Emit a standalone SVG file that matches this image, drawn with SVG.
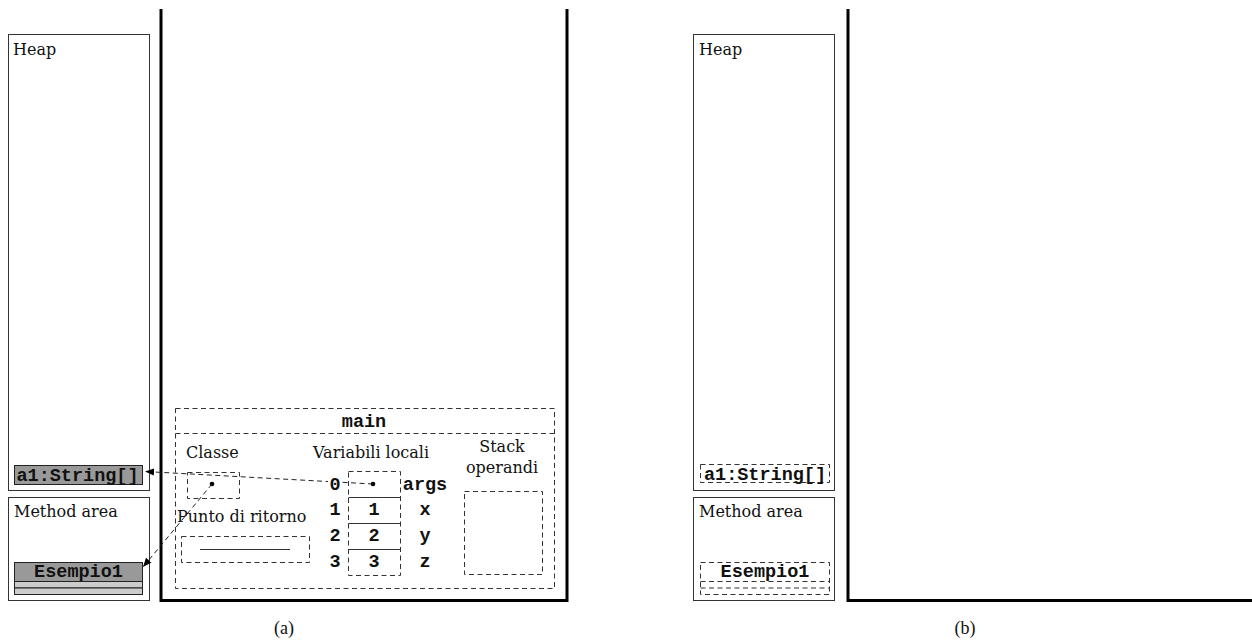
<svg xmlns="http://www.w3.org/2000/svg" width="1252" height="644" viewBox="0 0 1252 644">
<defs>
<marker id="arr" viewBox="0 0 10 10" refX="10" refY="5" markerWidth="9" markerHeight="9" markerUnits="userSpaceOnUse" orient="auto">
<path d="M0,1 L10,5 L0,9 z" fill="#000"/>
</marker>
<style>
.area{fill:#fff;stroke:#333;stroke-width:1}
.stack{fill:none;stroke:#000;stroke-width:3}
.dash{fill:none;stroke:#333;stroke-width:1;stroke-dasharray:5 3.5}
.solid{fill:none;stroke:#333;stroke-width:1}
.obj{fill:#999;stroke:#222;stroke-width:1}
.obj2{fill:#ccc;stroke:#222;stroke-width:1}
.ser{font-family:"DejaVu Serif",serif;font-size:16px;fill:#111}
.cap{font-family:"Liberation Serif",serif;font-size:18px;fill:#111}
.mono{font-family:"Liberation Mono","Courier New",monospace;font-weight:bold;font-size:18.5px;fill:#111}
.conn{fill:none;stroke:#222;stroke-width:1;stroke-dasharray:5 3.5}
</style>
</defs>
<rect width="1252" height="644" fill="#fff"/>

<!-- Panel (a) -->
<g id="heap-a">
<rect class="area" x="8.5" y="34.5" width="141" height="456"/>
<text class="ser" x="13" y="55">Heap</text>
</g>
<g id="a1-a">
<rect class="obj" x="14.5" y="465.5" width="128" height="19"/>
<text class="mono" x="77.5" y="481" text-anchor="middle">a1:String[]</text>
</g>
<g id="method-a">
<rect class="area" x="8.5" y="497.5" width="141" height="103"/>
<text class="ser" x="14" y="517">Method area</text>
</g>
<g id="esempio-a">
<rect class="obj" x="14.5" y="562.5" width="128" height="19"/>
<rect class="obj2" x="14.5" y="581.5" width="128" height="6.5"/>
<rect class="obj2" x="14.5" y="588" width="128" height="6.5"/>
<text class="mono" x="78.5" y="577" text-anchor="middle">Esempio1</text>
</g>
<g id="stack-a">
<polyline class="stack" points="161,9 161,600.5 567,600.5 567,9"/>
</g>
<g id="frame-main">
<rect class="dash" x="175.5" y="408.5" width="379" height="180"/>
<line class="dash" x1="175.5" y1="433.5" x2="554.5" y2="433.5"/>
<text class="mono" x="364" y="427" text-anchor="middle">main</text>
</g>
<g id="classe">
<text class="ser" x="186" y="458">Classe</text>
<rect class="dash" x="187.5" y="472.5" width="52" height="26"/>
<circle cx="212" cy="484" r="2.3" fill="#000"/>
</g>
<g id="ritorno">
<text class="ser" x="177" y="522">Punto di ritorno</text>
<rect class="dash" x="181.5" y="536.5" width="128" height="26"/>
<line class="solid" x1="200" y1="549.5" x2="290" y2="549.5"/>
</g>
<g id="variabili">
<text class="ser" x="313" y="458">Variabili locali</text>
<rect class="dash" x="348.5" y="471.5" width="52" height="104"/>
<line class="solid" x1="348.5" y1="497.5" x2="400.5" y2="497.5"/>
<line class="solid" x1="348.5" y1="523.5" x2="400.5" y2="523.5"/>
<line class="solid" x1="348.5" y1="549.5" x2="400.5" y2="549.5"/>
<circle cx="373" cy="484" r="2.3" fill="#000"/>
<text class="mono" x="374" y="515" text-anchor="middle">1</text>
<text class="mono" x="374" y="541" text-anchor="middle">2</text>
<text class="mono" x="374" y="567" text-anchor="middle">3</text>
<text class="mono" x="425" y="490" text-anchor="middle">args</text>
<text class="mono" x="425" y="515" text-anchor="middle">x</text>
<text class="mono" x="425" y="541" text-anchor="middle">y</text>
<text class="mono" x="425" y="567" text-anchor="middle">z</text>
</g>
<g id="operandi">
<text class="ser" x="502" y="452" text-anchor="middle">Stack</text>
<text class="ser" x="502" y="473" text-anchor="middle">operandi</text>
<rect class="dash" x="464.5" y="491.5" width="78" height="83"/>
</g>

<g id="connectors">
<line class="conn" x1="373" y1="484" x2="145" y2="471.5" marker-end="url(#arr)"/>
<line class="conn" x1="212" y1="484" x2="143" y2="567" marker-end="url(#arr)"/>
</g>

<g id="indices">
<rect x="328" y="476" width="14" height="16" fill="#fff"/>
<text class="mono" x="335" y="490" text-anchor="middle">0</text>
<text class="mono" x="335" y="515" text-anchor="middle">1</text>
<text class="mono" x="335" y="541" text-anchor="middle">2</text>
<text class="mono" x="335" y="567" text-anchor="middle">3</text>
</g>

<text class="cap" x="284" y="634" text-anchor="middle">(a)</text>

<!-- Panel (b) -->
<g id="heap-b">
<rect class="area" x="693.5" y="34.5" width="141" height="456"/>
<text class="ser" x="699" y="55">Heap</text>
</g>
<g id="a1-b">
<rect class="dash" x="700.5" y="464.5" width="129" height="18"/>
<text class="mono" x="765" y="480" text-anchor="middle">a1:String[]</text>
</g>
<g id="method-b">
<rect class="area" x="693.5" y="497.5" width="141" height="103"/>
<text class="ser" x="699" y="517">Method area</text>
</g>
<g id="esempio-b">
<rect class="dash" x="700.5" y="562.5" width="129" height="32"/>
<line class="dash" x1="700.5" y1="581.5" x2="829.5" y2="581.5"/>
<line class="dash" x1="700.5" y1="588" x2="829.5" y2="588"/>
<text class="mono" x="765" y="577" text-anchor="middle">Esempio1</text>
</g>
<g id="stack-b">
<polyline class="stack" points="848,9 848,600.5 1252,600.5"/>
</g>
<text class="cap" x="965" y="634" text-anchor="middle">(b)</text>
</svg>
